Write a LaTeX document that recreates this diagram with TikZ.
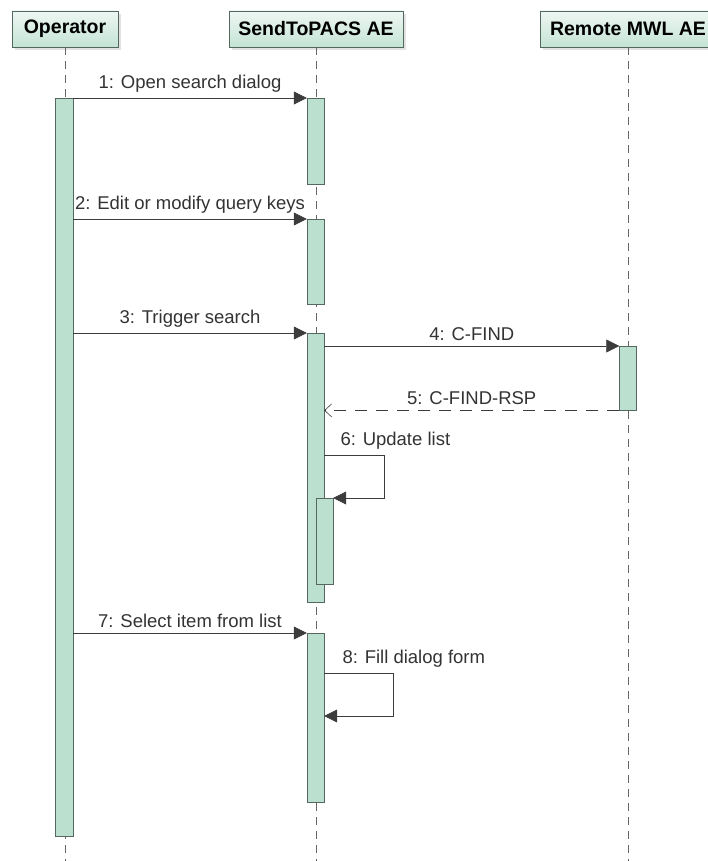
\documentclass[tikz,border=0pt]{standalone}
\usepackage{fontspec}
\setmainfont{Liberation Sans}
\usetikzlibrary{arrows.meta, positioning, shadows}
\definecolor{headtop}{RGB}{238,247,243}
\definecolor{headbot}{RGB}{196,227,213}
\definecolor{barfill}{RGB}{188,224,207}
\definecolor{edge}{RGB}{84,104,96}
\definecolor{ink}{RGB}{60,60,60}

\begin{document}
\begin{tikzpicture}[x=1pt, y=-1pt,
      head/.style = {draw=edge, thick, top color=headtop, bottom color=headbot,
                     minimum height=36pt, inner sep=0pt,
                     font=\fontsize{19.5}{21}\selectfont\bfseries,
                     drop shadow={shadow xshift=3pt, shadow yshift=-3pt, fill=gray!45}},
      life/.style = {draw=gray!80!black, dash pattern=on 8pt off 6pt},
      bar/.style  = {draw=edge, fill=barfill, minimum width=17pt, inner sep=0pt,
                     anchor=north},
      msg/.style  = {draw=ink, semithick, -{Triangle[length=13pt, width=13pt]}},
      ret/.style  = {draw=ink, semithick, dash pattern=on 12pt off 9pt,
                     -{Straight Barb[length=7pt, width=13pt]}},
      lbl/.style  = {font=\fontsize{18.5}{21}\selectfont, text=black!80, inner sep=2pt,
                     yshift=3pt}
    ]
    \useasboundingbox (0,0) rectangle (708,861);

    % participants
    \node[head, minimum width=106pt] (op)  at (65,29)  {Operator};
    \node[head, minimum width=174pt] (snd) at (316,29) {SendToPACS AE};
    \node[head, minimum width=176pt] (mwl) at (628,29) {Remote MWL AE};

    \foreach \p in {op, snd, mwl}
      \draw[life] (\p.south) -- (\p.south |- 0,861);

    % activations
    \node[bar, minimum width=18pt, minimum height=738pt] (opbar) at (64,98) {};
    \node[bar, minimum height=86pt]  (sbar1) at (315.5,98)  {};
    \node[bar, minimum height=85pt]  (sbar2) at (315.5,219) {};
    \node[bar, minimum height=269pt] (sbar3) at (315.5,333) {};
    \node[bar, minimum height=86pt]  (sbarn) at (324.5,498) {};
    \node[bar, minimum height=64pt]  (rbar)  at (628,346)   {};
    \node[bar, minimum height=169pt] (sbar4) at (315.5,633) {};

    % messages
    \draw[msg] (opbar.east |- sbar1.north) -- (sbar1.north west)
               node[midway, above, lbl]{1: Open search dialog};
    \draw[msg] (opbar.east |- sbar2.north) -- (sbar2.north west)
               node[midway, above, lbl]{2: Edit or modify query keys};
    \draw[msg] (opbar.east |- sbar3.north) -- (sbar3.north west)
               node[midway, above, lbl]{3: Trigger search};
    \draw[msg] (sbar3.east |- rbar.north) -- (rbar.north west)
               node[midway, above, lbl]{4: C-FIND};
    \draw[ret] (rbar.south west) -- (sbar3.east |- rbar.south)
               node[midway, above, lbl]{5: C-FIND-RSP};
    \draw[msg] (sbar3.east |- 0,455) node[above right, lbl, xshift=14pt]{6: Update list}
               -- ++(60,0) |- (sbarn.north east);
    \draw[msg] (opbar.east |- sbar4.north) -- (sbar4.north west)
               node[midway, above, lbl]{7: Select item from list};
    \draw[msg] (sbar4.east |- 0,673) node[above right, lbl, xshift=16pt]{8: Fill dialog form}
               -- ++(69,0) |- (sbar4.east |- 0,716);
  \end{tikzpicture}
\end{document}
